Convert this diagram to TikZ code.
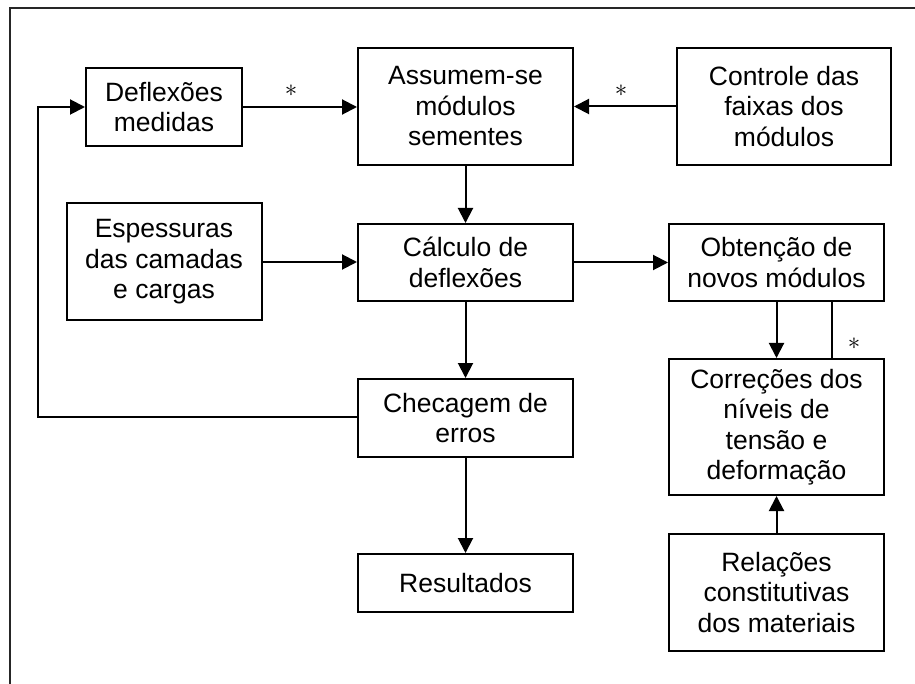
\documentclass[tikz,border=0pt]{standalone}
\usepackage{fontspec}
\setmainfont{Liberation Sans}
\usetikzlibrary{arrows.meta}
\begin{document}
\begin{tikzpicture}[x=1pt,y=-1pt,
  box/.style={draw,line width=2pt,align=center,inner sep=0pt,
    font=\fontsize{26.5}{30.5}\selectfont},
  arr/.style={line width=2pt,-{Triangle[length=15pt,width=15pt]}},
  conn/.style={line width=2pt},
  star/.style={inner sep=0pt,font=\fontsize{28}{28}\selectfont}]
\useasboundingbox (0,0) rectangle (915,684);
\draw[line width=2pt,black!85] (10,684) -- (10,8) -- (915,8);
% nodes
\node[box,minimum width=156,minimum height=78] (defl) at (164,107) {Deflexões\\medidas};
\node[box,minimum width=215,minimum height=117] (ass) at (465.5,106.5) {Assumem-se\\módulos\\sementes};
\node[box,minimum width=214,minimum height=117] (ctl) at (784,106.5) {Controle das\\faixas dos\\módulos};
\node[box,minimum width=195,minimum height=117] (esp) at (164,262) {Espessuras\\das camadas\\e cargas};
\node[box,minimum width=215,minimum height=77] (calc) at (465.5,262.5) {Cálculo de\\deflexões};
\node[box,minimum width=215,minimum height=77] (obt) at (776.5,262.5) {Obtenção de\\novos módulos};
\node[box,minimum width=215,minimum height=78] (chk) at (465.5,418) {Checagem de\\erros};
\node[box,minimum width=215,minimum height=58] (res) at (465.5,583) {Resultados};
\node[box,minimum width=215,minimum height=136] (cor) at (776.5,427) {Correções dos\\níveis de\\tensão e\\deformação};
\node[box,minimum width=215,minimum height=117] (rel) at (776.5,592.5) {Relações\\constitutivas\\dos materiais};
% connectors
\draw[arr] (defl.east) -- (defl.east -| ass.west);
\draw[arr] (ctl.west) -- (ctl.west -| ass.east);
\draw[arr] (ass.south) -- (calc.north);
\draw[arr] (esp.east) -- (esp.east -| calc.west);
\draw[arr] (calc.east) -- (obt.west);
\draw[arr] (calc.south) -- (chk.north);
\draw[arr] (chk.south) -- (res.north);
\coordinate (lc) at (38,417);
\draw[arr] (chk.west |- lc) -- (lc) |- (defl.west);
\draw[arr] (obt.south) -- (cor.north);
\draw[conn] ([xshift=55.5pt]cor.north) -- ([xshift=55.5pt]obt.south);
\draw[arr] (rel.north) -- (cor.south);
% labels
\node[star] (s1) at (291,91) {$\ast$};
\node[star] (s2) at (621,91) {$\ast$};
\node[star] (s3) at (854,344) {$\ast$};
\end{tikzpicture}
\end{document}
